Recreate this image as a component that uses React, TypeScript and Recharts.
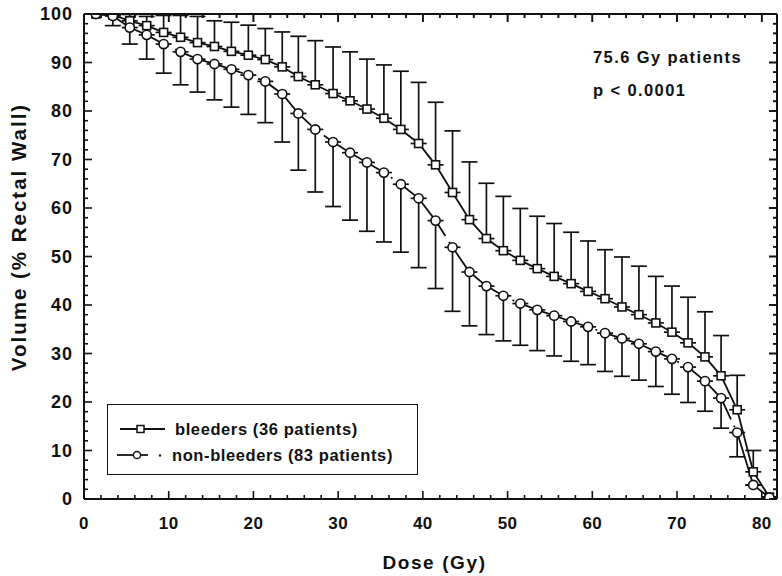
import React from 'react';
import { ComposedChart, Line, XAxis, YAxis, ErrorBar, Legend } from 'recharts';

// Dose (Gy) of each sampled point
const doses = [1.4, 3.4, 5.4, 7.4, 9.4, 11.4, 13.4, 15.4, 17.4, 19.4, 21.4, 23.4, 25.3, 27.3, 29.4, 31.4, 33.4, 35.4, 37.4, 39.5, 41.5, 43.5, 45.5, 47.5, 49.5, 51.5, 53.5, 55.5, 57.5, 59.5, 61.5, 63.5, 65.5, 67.5, 69.4, 71.3, 73.3, 75.2, 77.1, 79.0, 80.9];

// bleeders (36 patients): mean volume and upper error-bar end
const bleeders = [100, 99.8, 98.6, 97.6, 96.2, 95.2, 94.1, 93.3, 92.3, 91.5, 90.6, 89.1, 87.1, 85.4, 83.6, 82.1, 80.4, 78.5, 76.2, 73.3, 68.9, 63.2, 57.6, 53.7, 51.2, 49.2, 47.5, 45.9, 44.4, 42.8, 41.3, 39.6, 38.0, 36.3, 34.4, 32.2, 29.3, 25.4, 18.4, 5.6, 0.4];
const bleedersUpper = [100, 99.8, 99.9, 99.5, 99.7, 99.7, 99.5, 98.6, 98.3, 97.7, 97.0, 96.3, 95.4, 94.5, 93.2, 92.2, 90.7, 89.5, 88.2, 85.9, 81.8, 75.9, 69.5, 65.1, 62.4, 59.9, 58.3, 56.8, 55.0, 53.2, 51.4, 49.9, 48.0, 45.9, 43.9, 41.6, 38.6, 33.7, 25.5, 10.0, 0.4];

// non-bleeders (83 patients): mean volume and lower error-bar end
const nonBleeders = [100, 99.6, 97.2, 95.7, 93.8, 92.2, 90.7, 89.7, 88.6, 87.4, 86.1, 83.5, 79.5, 76.2, 73.6, 71.4, 69.4, 67.3, 64.9, 62.0, 57.4, 51.9, 46.8, 43.9, 41.9, 40.3, 39.0, 37.8, 36.6, 35.5, 34.2, 33.1, 32.0, 30.4, 28.9, 27.2, 24.3, 20.8, 13.7, 2.9, 0.3];
const nonBleedersLower = [100, 97.6, 93.8, 90.7, 87.8, 85.4, 83.9, 82.3, 80.8, 79.3, 77.6, 73.6, 67.8, 63.3, 60.3, 57.5, 55.2, 53.0, 50.9, 47.7, 43.4, 38.7, 35.7, 33.9, 32.6, 31.7, 30.6, 29.5, 28.4, 27.7, 26.3, 25.3, 24.5, 23.2, 21.6, 19.9, 18.1, 14.6, 8.7, 2.9, 0.3];

// Axis ticks (labelled every 10, minor every 2)
const xTicks = [0, 2, 4, 6, 8, 10, 12, 14, 16, 18, 20, 22, 24, 26, 28, 30, 32, 34, 36, 38, 40, 42, 44, 46, 48, 50, 52, 54, 56, 58, 60, 62, 64, 66, 68, 70, 72, 74, 76, 78, 80];
const yTicks = [0, 2, 4, 6, 8, 10, 12, 14, 16, 18, 20, 22, 24, 26, 28, 30, 32, 34, 36, 38, 40, 42, 44, 46, 48, 50, 52, 54, 56, 58, 60, 62, 64, 66, 68, 70, 72, 74, 76, 78, 80, 82, 84, 86, 88, 90, 92, 94, 96, 98, 100];
const xDomain = [0, 81.8];
const yDomain = [0, 100];

const seriesNames = ['bleeders (36 patients)', 'non-bleeders (83 patients)'];
const annotations = ['75.6 Gy patients', 'p < 0.0001'];
const xTitle = 'Dose (Gy)';
const yTitle = 'Volume (% Rectal Wall)';

const data = doses.map((d, i) => ({
  dose: d,
  b: bleeders[i],
  n: nonBleeders[i],
  bErr: [0, bleedersUpper[i] - bleeders[i]],
  nErr: [nonBleeders[i] - nonBleedersLower[i], 0],
}));

const W = 782;
const H = 576;
const MARGIN = { top: 14, right: 5, left: 0, bottom: 0 };
const Y_AXIS_W = 84;
const X_AXIS_H = 77;
const PLOT_X = MARGIN.left + Y_AXIS_W;
const PLOT_Y = MARGIN.top;
const PLOT_W = W - MARGIN.right - PLOT_X;
const PLOT_H = H - PLOT_Y - X_AXIS_H;

const FONT = '"Liberation Sans", Arial, Helvetica, sans-serif';
const INK = '#111';
const MAJOR = 8;
const MINOR = 4;
const TICK_W = 1.6;
const FRAME_W = 2;

const isMajor = (v: number) => v % 10 === 0;
const tickLen = (v: number) => (isMajor(v) ? MAJOR : MINOR);
// same linear mapping as the chart's plot area (used only for the mirrored frame)
const px = (v: number) => PLOT_X + ((v - xDomain[0]) / (xDomain[1] - xDomain[0])) * PLOT_W;
const py = (v: number) => PLOT_Y + PLOT_H - ((v - yDomain[0]) / (yDomain[1] - yDomain[0])) * PLOT_H;

// Bottom axis tick: inward tick, label, and the mirrored tick on the top border
const BottomTick = (props: any) => {
  const { x, y, payload } = props;
  const v = payload.value;
  const len = tickLen(v);
  const top = y - PLOT_H;
  return (
    <g>
      <line x1={x} y1={y} x2={x} y2={y - len} stroke={INK} strokeWidth={TICK_W} />
      <line x1={x} y1={top} x2={x} y2={top + len} stroke={INK} strokeWidth={TICK_W} />
      {isMajor(v) && (
        <text x={x} y={y + 30} textAnchor="middle" fontFamily={FONT} fontWeight="bold" fontSize={17} letterSpacing={0.4} fill={INK}>
          {v}
        </text>
      )}
    </g>
  );
};

// Left axis tick: inward tick, label, and the mirrored tick on the right border
const LeftTick = (props: any) => {
  const { x, y, payload } = props;
  const v = payload.value;
  const len = tickLen(v);
  const right = x + PLOT_W;
  return (
    <g>
      <line x1={x} y1={y} x2={x + len} y2={y} stroke={INK} strokeWidth={TICK_W} />
      <line x1={right} y1={y} x2={right - len} y2={y} stroke={INK} strokeWidth={TICK_W} />
      {isMajor(v) && (
        <text x={x - 11} y={y + 6} textAnchor="end" fontFamily={FONT} fontWeight="bold" fontSize={18} letterSpacing={1} fill={INK}>
          {v}
        </text>
      )}
    </g>
  );
};

const SquareDot = (props: any) => {
  const { cx, cy, index } = props;
  if (cx == null || cy == null) return <g key={`s${index}`} />;
  return <rect key={`s${index}`} x={cx - 4} y={cy - 4} width={8} height={8} fill="#fff" stroke={INK} strokeWidth={1.6} />;
};

const CircleDot = (props: any) => {
  const { cx, cy, index } = props;
  if (cx == null || cy == null) return <g key={`c${index}`} />;
  return <circle key={`c${index}`} cx={cx} cy={cy} r={4.6} fill="#fff" stroke={INK} strokeWidth={1.6} />;
};

const LegendBox = () => (
  <div style={{ width: 311, height: 71, border: `1.6px solid ${INK}`, boxSizing: 'border-box', background: '#fff' }}>
    <svg width={309} height={69} style={{ display: 'block' }}>
      <line x1={12} y1={24} x2={57} y2={24} stroke={INK} strokeWidth={1.8} />
      <rect x={29} y={20.5} width={7} height={7} fill="#fff" stroke={INK} strokeWidth={1.5} />
      <text x={67} y={30} fontFamily={FONT} fontWeight="bold" fontSize={16.5} letterSpacing={0.6} fill={INK}>
        {seriesNames[0]}
      </text>
      <line x1={9} y1={50} x2={40} y2={50} stroke={INK} strokeWidth={1.8} />
      <circle cx={29} cy={50} r={3.6} fill="#fff" stroke={INK} strokeWidth={1.5} />
      <circle cx={52} cy={50.5} r={1.2} fill={INK} />
      <text x={64} y={56} fontFamily={FONT} fontWeight="bold" fontSize={16.5} letterSpacing={0.6} fill={INK}>
        {seriesNames[1]}
      </text>
    </svg>
  </div>
);

export default function App() {
  return (
    <div style={{ position: 'absolute', left: 0, top: 0, width: W, height: H, background: '#fff', overflow: 'hidden' }}>
      <ComposedChart width={W} height={H} data={data} margin={MARGIN}>
        <XAxis
          xAxisId="bottom"
          dataKey="dose"
          type="number"
          domain={xDomain}
          allowDataOverflow
          ticks={xTicks}
          interval={0}
          height={X_AXIS_H}
          tickSize={0}
          tickMargin={0}
          tick={<BottomTick />}
          axisLine={{ stroke: INK, strokeWidth: FRAME_W }}
          tickLine={false}
          label={{ value: xTitle, position: 'insideBottom', offset: 7, dx: 4, fontFamily: FONT, fontWeight: 'bold', fontSize: 19, letterSpacing: 1.6, fill: INK }}
        />
        <YAxis
          yAxisId="left"
          type="number"
          domain={yDomain}
          allowDataOverflow
          ticks={yTicks}
          interval={0}
          width={Y_AXIS_W}
          tickSize={0}
          tickMargin={0}
          tick={<LeftTick />}
          axisLine={{ stroke: INK, strokeWidth: FRAME_W }}
          tickLine={false}
          label={{
            content: () => (
              <text x={26} y={237} transform="rotate(-90 26 237)" textAnchor="middle" fontFamily={FONT} fontWeight="bold" fontSize={20.5} letterSpacing={2} fill={INK}>
                {yTitle}
              </text>
            ),
          }}
        />
        <Legend
          layout="vertical"
          align="center"
          verticalAlign="middle"
          content={<LegendBox />}
          wrapperStyle={{ left: 107, top: 404, width: 311, height: 71 }}
        />
        <Line
          xAxisId="bottom"
          yAxisId="left"
          type="linear"
          dataKey="b"
          name={seriesNames[0]}
          stroke={INK}
          strokeWidth={1.8}
          dot={SquareDot}
          activeDot={false}
          isAnimationActive={false}
        >
          <ErrorBar dataKey="bErr" direction="y" width={8} stroke={INK} strokeWidth={1.7} isAnimationActive={false} />
        </Line>
        <Line
          xAxisId="bottom"
          yAxisId="left"
          type="linear"
          dataKey="n"
          name={seriesNames[1]}
          stroke={INK}
          strokeWidth={1.8}
          strokeDasharray="72 7 2 7"
          dot={CircleDot}
          activeDot={false}
          isAnimationActive={false}
        >
          <ErrorBar dataKey="nErr" direction="y" width={8} stroke={INK} strokeWidth={1.7} isAnimationActive={false} />
        </Line>
      </ComposedChart>
      <svg width={W} height={H} style={{ position: 'absolute', left: 0, top: 0, pointerEvents: 'none' }}>
        {/* top and right frame with inward ticks */}
        <line x1={px(xDomain[0])} y1={py(yDomain[1])} x2={px(xDomain[1])} y2={py(yDomain[1])} stroke={INK} strokeWidth={FRAME_W} />
        <line x1={px(xDomain[1])} y1={py(yDomain[1])} x2={px(xDomain[1])} y2={py(yDomain[0])} stroke={INK} strokeWidth={FRAME_W} />
        {xTicks.map((t) => (
          <line key={`ot${t}`} x1={px(t)} y1={py(yDomain[1])} x2={px(t)} y2={py(yDomain[1]) + tickLen(t)} stroke={INK} strokeWidth={TICK_W} />
        ))}
        {yTicks.map((t) => (
          <line key={`or${t}`} x1={px(xDomain[1])} y1={py(t)} x2={px(xDomain[1]) - tickLen(t)} y2={py(t)} stroke={INK} strokeWidth={TICK_W} />
        ))}
        <text x={593} y={63} fontFamily={FONT} fontWeight="bold" fontSize={16.5} letterSpacing={1.4} fill={INK}>
          {annotations[0]}
        </text>
        <text x={593} y={96} fontFamily={FONT} fontWeight="bold" fontSize={16.5} letterSpacing={1.4} fill={INK}>
          {annotations[1]}
        </text>
      </svg>
    </div>
  );
}
